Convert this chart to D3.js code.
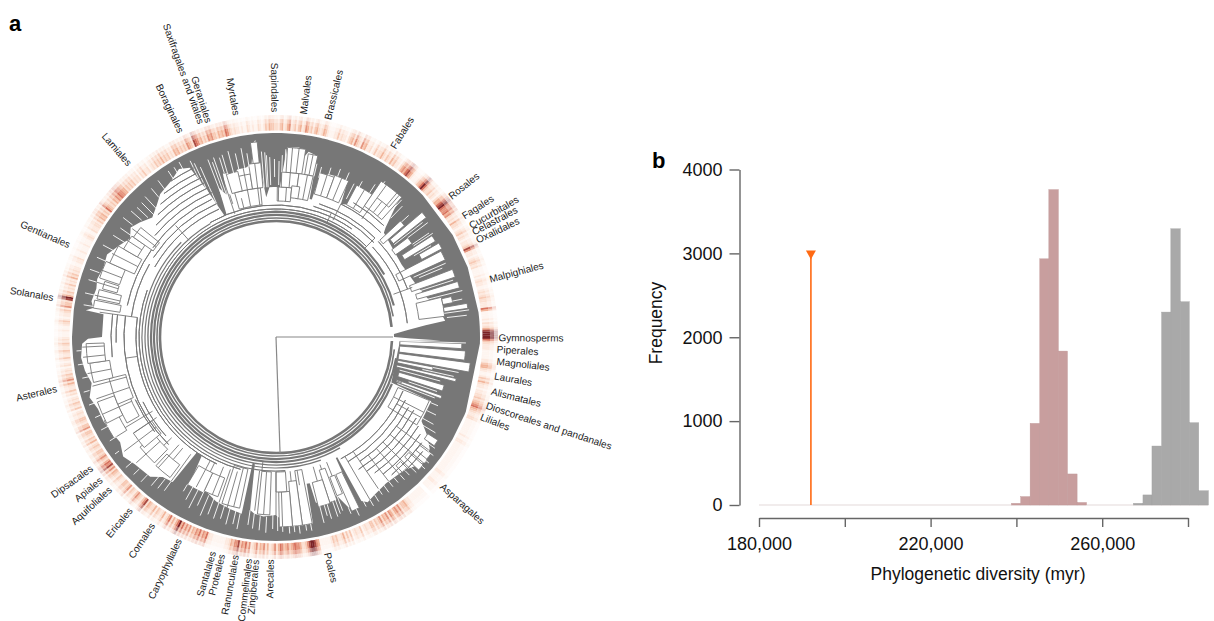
<!DOCTYPE html>
<html>
<head>
<meta charset="utf-8">
<script src="https://cdn.jsdelivr.net/npm/d3@7"></script>
<style>
  html, body { margin: 0; padding: 0; background: #fff; }
  svg { display: block; font-family: "Liberation Sans", Arial, sans-serif; }
</style>
</head>
<body>
<svg id="chart" width="1214" height="621"></svg>
<script>
// panel a: angles are degrees clockwise from north, depth is distance along the tree
const orderNames = ['Saxifragales and vitales', 'Geraniales', 'Boraginales', 'Myrtales', 'Sapindales', 'Malvales',
  'Brassicales', 'Fabales', 'Rosales', 'Fagales', 'Cucurbitales', 'Celastrales', 'Oxalidales', 'Malpighiales',
  'Gymnosperms', 'Piperales', 'Magnoliales', 'Laurales', 'Alismatales', 'Dioscoreales and pandanales', 'Liliales',
  'Asparagales', 'Poales', 'Arecales', 'Zingiberales', 'Commelinales', 'Ranunculales', 'Proteales', 'Santalales',
  'Caryophyllales', 'Cornales', 'Ericales', 'Aquifoliales', 'Apiales', 'Dipsacales', 'Asterales', 'Solanales',
  'Gentianales', 'Lamiales'];
const orderAngles = [340.5, 342.4, 334.9, 349.7, 359.5, 7.2, 13.6, 31.9, 51.4, 57.4, 60.4, 62.2, 64.5, 75.1,
  90.4, 93.4, 96.5, 100.3, 104.3, 108.2, 111.4, 132, 166.8, 181.2, 185, 186.8, 190.3, 193.8, 196.2,
  205.4, 213.2, 220, 227.4, 230.7, 234.5, 256.6, 279.8, 293.8, 319.5];
const orderDepths = [279, 249, 252, 244, 249.5, 244, 249, 240, 241, 240, 251, 247.6, 246, 249,
  255, 242, 248.6, 241, 247.6, 287, 235, 250, 237, 242, 251, 255, 252, 245, 247,
  257, 244, 243, 250, 241.6, 250, 246, 248, 252.5, 246];

// inner edge of the dense tip crown, [angle, depth]
const crownEdge = [[0,150],[1.5,150],[2.5,170],[3.5,190],[7,191],[9,183],[10,188],[12.5,186],[13.2,165],[13.7,142],
  [14.6,142],[15.2,165],[18,171],[22,172],[25,166],[26,148],[28,150],[28.8,165],[30,160],[31.5,170],[34,172],[36,184],
  [39,188],[41.5,188],[43,172],[45,155],[46,150],[60,145],[70,150],[83,168],[84.5,170],[85.5,150],[87,132],
  [88.5,118],[90,118],[90.6,135],[91.2,165],[91.8,124],[111.5,124],[112.5,168],[120,168],[123,180],[126,190],[130,195],
  [136,185],[143,183],[148,186],[151,189],[152.5,185],[153,135],[153.7,135],[154.3,190],[157,185],[159,170],[162,174],
  [165,175],[166.5,170],[167,150],[168.2,150],[168.8,190],[172,190],[176,190],[180,178],[184,180],[187,178],[188.5,175],
  [189.5,128],[190.5,128],[191,180],[195,178],[200,175],[204,170],[208,170],[210.5,172],[212,140],[214.5,140],[215.5,178],
  [219,180],[222,188],[228,190],[232,194],[236,188],[240,190],[244,192],[248,192],[252,196],[256,190],[260,194],[264,196],
  [268,194],[269.5,188],[270,174],[277.5,174],[278,192],[279,185],[281,188],[285,186],[288,188],[292,186],[296,188],
  [300,182],[304,176],[307,182],[310,178],[314,172],[318,178],[321,184],[326,188],[330,194],[333,190],[335,160],[337,132],
  [338,132],[339,160],[341,150],[342,172],[344,170],[345,166],[347,172],[350,172],[352,175],[353.2,195],[354,198],
  [354.8,165],[356,140],[357.5,150],[359,150],[360,150]];

// clades that read as white boxes against the crown, [angle0, angle1, depth0, depth1]
const cladeBoxes = [
  [344,354,133,150],[346,351,150,165],[343,347,150,170],[351,355,150,175],[352.5,354.5,175,196],
  [0.5,6,136,150],[2,8,150,165],[3.5,9,165,190],[10,13,165,186],[8,13,140,165],[6,9,140,152],
  [15,20,148,170],[20,25,148,172],[28,34,150,172],[34,42,158,188],[36,41,172,188],
  [49.5,51.5,150,192],[47,49,142,170],[57,59,150,186],[60,62,165,188],[62.5,65.5,135,186],[53,55.5,145,165],
  [69,71.5,143,189],[73,75,146,190],[76.5,83,144,170],[80,81.5,170,194],[77,79,170,180],
  [92,93.6,124,186],[94.2,97,124,190],[97.6,100.3,124,196],[100.8,102,124,160],[103,104,124,185],[106,108,128,175],[109.5,110.5,128,176],
  [112.5,122,132,166],[122.5,124.5,180,192],[127,129,180,194],[131,133,176,195],[135,137,176,185],
  [154,156.5,150,190],[157,159,150,170],[159.5,162,140,174],[162,166,150,175],[169,172,135,190],[172,175,145,190],[175,179,155,190],[176,180,135,155],
  [182,186,135,178],[192,198,135,175],[200,205,150,170],[205,211,150,172],[217,223,160,176],[224,231,156,175],[230,236,150,172],
  [238,244,176,191],[240,250,158,172],[243,250,172,190],[247,256,155,172],[256,262,168,188],[262,268,172,190],
  [279,281.5,158,185],[282,285,160,183],[285.5,288,165,180],[288.5,294,165,186],[294,300,155,182],[300,305,160,176],[305,309,150,174]];

// backbone arcs, [angle0, angle1, depth, stroke]
const backboneArcs = [
  [92,445,116,2.6],[96,440,119,1.6],[100,435,122,2.2],[112,420,125,2.2],[150,300,128,1.4],[300,405,128,1],
  [160,330,131,1.2],[330,395,132,1],[176,315,134,1.2],[195,290,137,1],[205,278,140,1],[225,278,152,1]];

// comb-like runs of arcs between the backbone and the crown, [angle0, angle1, depth]
const ladderArcs = [
  [16,46,136],[18,45,140],[26,45,148],[30,44,155],[47,84,132],[47,70,140],
  [118,146,150],[118,148,156],[120,146,162],[122,144,168],[124,142,174],[126,140,180],[128,136,186],[113,152,138],[116,150,144],
  [300,336,140],[303,336,146],[306,335,152],[310,336,158],[313,336,164],[316,335,170],[319,335,176],[322,334,182],[326,334,188],
  [228,244,148],[232,246,154],[278,300,146],[282,305,152],[268,278,160],[263,278,165]];

// single grey stems in the open part of the tree, [angle, depth0, depth1]
const branchStems = [[117,132,166],[278,140,178],[262,140,152],[186,125,135],[110,124,134],[70,125,145],[45,125,140],[24,125,136],[318,130,150],
  [4,136,150],[11,140,165],[17.5,148,170],[22.5,148,172],[31,150,172],[38,158,172],[119,138,166],[158,135,150],[161,135,140],[164,135,150],[171,135,150],
  [174,135,145],[178,155,190],[180,135,178],[184,135,178],[187,135,175],[194,135,175],[196,140,178],[199,140,175],[202,140,170],[206,140,150],[208,140,170],
  [216,145,178],[220,145,160],[222,145,176],[226,145,156],[228,156,188],[233,150,190],[236,144,172],[239,144,176],[246,158,190],[251,155,190],[255,155,190],
  [259,168,192],[264,172,194],[267,172,194],[283,160,186],[287,165,188],[291,165,188],[297,155,184],[303,160,180],[307,150,180],[341.5,130,172],[349,133,172],[353,133,175],
  [342,140,150],[346,133,143],[1,136,150],[5,150,190],[7,165,190],[11.5,165,186],[26,130,148],[36,146,172],[40,158,188],
  [126.5,150,190],[130.5,150,195],[134.5,150,190],[138,150,186],[142,150,183],[146,138,183],[150,138,188]];

// thin white slits and nicks in the crown, [angle, depth0, depth1]
const crownNicks = [
  [356.5,150,185],[358,152,180],[359.5,160,178],[1,152,176],[2,165,182],[3,170,188],[13.3,165,178],[15,165,176],[18,170,178],[21,172,180],[24,165,180],
  [27,155,172],[29,160,178],[33,172,182],[35,178,190],[42.5,172,186],[44,165,182],[47.5,170,180],[52,150,186],[53,165,190],[55.8,165,185],[56.5,165,188],
  [59.5,160,180],[66.5,150,185],[67.5,155,180],[72.2,148,186],[76,150,192],[78.5,180,190],[82,170,195],[83.5,172,192],
  [91.8,124,190],[101,160,186],[102.5,150,182],[105,128,170],[108.7,140,170],[111,130,170],[113,168,176],[116,168,178],[119,168,180],[121,170,186],
  [125,185,194],[127,190,197],[129.5,192,198],[131.5,195,199],[134,186,195],[136,185,192],[138,185,192],[140,184,190],[142,183,190],[144,183,192],[146,184,190],
  [148,186,194],[150,188,195],[152,186,192],[155,190,197],[157,185,192],[159,170,186],[160,172,188],[161,174,190],[163,175,190],[164,175,186],[165.5,174,192],
  [169.5,190,197],[171,190,196],[173,190,198],[174.5,190,196],[176,190,197],[178,186,195],[179.5,178,194],[181,178,192],[183,180,196],[185,180,194],[187,178,193],
  [188.5,175,190],[191.5,180,196],[193,178,192],[195,178,194],[197,176,190],[199,175,192],[201,172,190],[203,172,194],[205,170,186],[207,170,192],[209,171,186],
  [211,172,180],[216,178,190],[218,180,192],[220,180,194],[223,188,198],[226,190,198],[229,190,199],[234,194,199],[238,188,196],[242,190,198],[246,192,198],[250,192,199],
  [254,194,200],[258,190,198],[262,194,200],[266,195,200],[279.5,185,195],[283,186,196],[287,186,196],[290,188,198],[294,186,196],[298,184,196],[302,178,192],
  [305,176,190],[308,182,194],[311,178,192],[313,175,190],[315,172,190],[317,175,192],[320,182,194],[323,184,196],[327,188,198],[329,190,198],[331,192,200],
  [334,170,196],[334.8,150,192],[336,145,186],[339,140,190],[340,155,186],[340.8,150,190],[342.5,172,188],[343.5,170,190],[345.5,166,192],[347.5,172,188],[349.5,172,192],[351,172,186],
  [355.5,150,186],[357,150,182]];

// heat ring, one level (0-9) per half degree of arc
const heatLevels = [
  3,2,4,5,2,3,5,6,2,3,4,2,4,5,2,3,6,5,3,4, 2,4,5,3,2,3,5,4,2,1,1,1,2,2,4,2,3,2,2,1,
  3,4,5,3,6,4,3,2,6,4,5,2,2,3,1,2,4,2,3,3, 5,3,2,4,3,2,5,3,4,2,2,1,3,5,6,5,7,8,6,5,
  2,1,1,1,2,4,5,7,9,7,4,3,3,4,2,3,2,1,3,5, 5,7,8,9,7,6,6,7,5,6,3,2,3,2,5,3,3,2,1,2,
  3,4,2,3,2,1,2,2,3,4,8,6,2,2,2,1,2,3,4,3, 2,3,1,1,1,1,2,1,2,3,2,2,1,1,2,3,2,3,4,3,
  3,2,2,2,7,5,1,1,1,1,2,1,3,2,3,5,8,9,9,9, 9,7,4,3,2,2,2,1,1,1,1,1,2,2,4,5,5,3,2,1,
  1,2,4,3,5,3,2,2,1,2,2,3,3,4,3,4,5,6,7,5, 4,3,2,2,3,3,1,1,1,1,1,1,1,1,1,2,1,1,2,2,
  1,1,1,1,1,1,1,1,1,1,1,1,1,1,1,1,1,1,2,2, 1,1,1,1,2,2,1,1,1,1,0,0,1,1,1,1,1,1,1,1,
  1,2,2,3,5,4,4,3,6,4,6,5,3,5,6,3,6,4,5,3, 6,4,3,4,2,4,4,2,2,3,2,1,4,2,2,3,2,1,4,2,
  4,2,5,3,2,2,4,3,4,2,1,1,1,1,1,1,5,6,8,9, 9,8,6,4,3,3,5,6,6,7,6,5,4,6,5,4,6,7,5,3,
  6,4,3,2,5,3,6,4,5,3,6,4,3,2,6,4,7,5,6,4, 8,6,6,4,5,3,2,2,1,1,1,1,1,1,1,2,2,3,7,5,
  6,4,7,5,6,4,5,3,6,4,6,4,7,5,9,7,5,3,5,3, 7,5,3,2,5,3,2,3,4,2,5,3,3,4,5,3,8,6,4,2,
  3,4,6,4,2,3,4,2,6,4,3,4,4,2,2,3,4,2,3,4, 5,3,6,4,8,6,7,5,3,4,6,4,3,4,4,2,3,4,3,2,
  5,3,4,2,3,4,4,2,6,4,4,2,3,4,4,2,2,3,2,1, 4,2,3,4,2,3,2,1,3,2,4,2,2,3,5,3,6,4,3,4,
  2,3,2,1,3,2,1,2,4,2,2,3,4,2,2,3,4,2,3,2, 1,1,1,2,1,1,2,3,4,2,1,2,2,3,4,2,6,4,4,3,
  8,9,5,3,4,2,3,2,4,2,3,2,5,3,4,2,3,2,2,1, 1,2,2,3,1,1,1,2,1,1,1,2,1,1,1,2,3,2,1,1,
  3,2,2,3,3,2,4,3,5,4,5,3,4,3,7,5,4,3,4,3, 5,4,6,5,7,6,6,5,5,3,4,3,4,3,4,2,3,2,3,1,
  3,2,4,2,2,3,1,2,3,2,4,3,4,3,5,3,4,3,4,2, 3,2,5,4,5,3,4,3,4,3,6,5,4,3,8,7,6,4,5,3,
  4,3,6,5,6,4,4,3,5,4,5,4,7,6,4,3,2,3,2,2, 1,2,1,1,3,2,1,2,1,1,3,2,1,2,4,3,5,4,4,3];

// root of the tree, [angle, depth]
const rootStems = [[90,117],[178,116]];

// panel b: histograms
const redBinEdges = [238870, 241000, 243200, 245450, 247560, 249780, 251900, 254150, 256350];
const redCounts = [20, 100, 973, 2935, 3760, 1835, 370, 30];
const greyBinEdges = [267300, 269500, 271600, 273850, 276000, 278200, 280300, 282500, 284750];
const greyCounts = [20, 120, 703, 2300, 3293, 2423, 981, 170];
const observedDiversity = 192100;
const observedHeight = 3000;
const yTicks = [0, 1000, 2000, 3000, 4000];
const xTicks = [180000, 200000, 220000, 240000, 260000, 280000];
const xTickLabels = {180000: '180,000', 220000: '220,000', 260000: '260,000'};

const svg = d3.select('#chart');
const treeColor = '#777';

// ---- panel a
const angle = d3.scaleLinear().domain([0, 360]).range([0, 2 * Math.PI]);
const depth = d3.scaleLinear().domain([0, 204]).range([0, 204]);
const OUTER_DEPTH = 204;
const tree = svg.append('g').attr('transform', 'translate(276,337)');
const sector = d3.arc();
const polar = (a, d) => [depth(d) * Math.sin(angle(a)), -depth(d) * Math.cos(angle(a))];

const defs = svg.append('defs');
defs.append('filter').attr('id', 'soft').append('feGaussianBlur').attr('stdDeviation', 0.45);
defs.append('filter').attr('id', 'softer').append('feGaussianBlur').attr('stdDeviation', 0.3);

// heat ring
const heatColor = d3.scaleLinear()
  .domain([0, 1, 3, 5, 7, 9])
  .range(['#fff', '#fef5f0', '#fbdfd0', '#f2b59a', '#d8735f', '#7a2226']);
const ring = tree.append('g').attr('filter', 'url(#soft)');
const ringBands = [[206.5, 214, 1], [214, 218, 0.65], [218, 222, 0.25]];
ringBands.forEach(([r0, r1, op]) => {
  ring.append('g').selectAll('path')
    .data(heatLevels)
    .join('path')
      .attr('fill', d => heatColor(d))
      .attr('opacity', op)
      .attr('d', (d, i) => sector({
        startAngle: angle(i / 2), endAngle: angle(i / 2 + 0.55),
        innerRadius: depth(r0), outerRadius: depth(r1)}));
});

const treeGroup = tree.append('g').attr('filter', 'url(#softer)');

// crown
treeGroup.append('path')
  .attr('fill', treeColor)
  .attr('d', d3.areaRadial()
    .angle(d => angle(d[0]))
    .innerRadius(d => depth(d[1]))
    .outerRadius(depth(OUTER_DEPTH))(crownEdge));

// clade boxes
treeGroup.append('g').selectAll('path')
  .data(cladeBoxes)
  .join('path')
    .attr('fill', '#fff')
    .attr('stroke', treeColor)
    .attr('stroke-width', 0.9)
    .attr('d', d => sector({
      startAngle: angle(d[0]), endAngle: angle(d[1]),
      innerRadius: depth(d[2]), outerRadius: depth(d[3])}));

// white slits
const stems = (parent, data, color, width) => parent.append('g').selectAll('line')
  .data(data)
  .join('line')
    .attr('stroke', color)
    .attr('stroke-width', width)
    .attr('x1', d => polar(d[0], d[1])[0]).attr('y1', d => polar(d[0], d[1])[1])
    .attr('x2', d => polar(d[0], d[2])[0]).attr('y2', d => polar(d[0], d[2])[1]);
stems(treeGroup, crownNicks, '#fff', 0.9);
stems(treeGroup, branchStems, treeColor, 0.9);

// backbone and ladders
treeGroup.append('g').selectAll('path')
  .data(backboneArcs)
  .join('path')
    .attr('fill', 'none')
    .attr('stroke', treeColor)
    .attr('stroke-width', d => d[3])
    .attr('d', d => sector({
      startAngle: angle(d[0]), endAngle: angle(d[1]),
      innerRadius: depth(d[2]), outerRadius: depth(d[2])}));
treeGroup.append('g').selectAll('path')
  .data(ladderArcs)
  .join('path')
    .attr('fill', 'none')
    .attr('stroke', treeColor)
    .attr('stroke-width', 0.9)
    .attr('d', d => sector({
      startAngle: angle(d[0]), endAngle: angle(d[1]),
      innerRadius: depth(d[2]), outerRadius: depth(d[2])}));

treeGroup.append('g').selectAll('line')
  .data(rootStems)
  .join('line')
    .attr('stroke', '#888')
    .attr('stroke-width', 1.2)
    .attr('x1', 0).attr('y1', 0)
    .attr('x2', d => polar(d[0], d[1])[0]).attr('y2', d => polar(d[0], d[1])[1]);

// order labels read outward on the right and left to right on the left
tree.append('g').selectAll('text')
  .data(orderNames)
  .join('text')
    .attr('font-size', 10)
    .attr('fill', '#222')
    .attr('text-anchor', 'middle')
    .attr('dominant-baseline', 'middle')
    .attr('transform', (d, i) => {
      const [x, y] = polar(orderAngles[i], orderDepths[i]);
      const a = orderAngles[i];
      return `translate(${x},${y}) rotate(${a < 180 ? a - 90 : a - 270})`;
    })
    .text(d => d);

// ---- panel b
const xScale = d3.scaleLinear().domain([180000, 280000]).range([759, 1188]);
const yScale = d3.scaleLinear().domain([0, 4000]).range([505, 169.5]);

svg.append('rect')
  .attr('x', xScale(180000)).attr('y', yScale(0) - 1)
  .attr('width', xScale(284750) - xScale(180000)).attr('height', 2)
  .attr('fill', '#f1ecec');

function histogram(edges, counts, color) {
  svg.append('g').selectAll('rect')
    .data(counts)
    .join('rect')
      .attr('x', (d, i) => xScale(edges[i]))
      .attr('width', (d, i) => xScale(edges[i + 1]) - xScale(edges[i]))
      .attr('y', d => yScale(d))
      .attr('height', d => yScale(0) - yScale(d))
      .attr('fill', color)
      .attr('stroke', d3.color(color).darker(0.15))
      .attr('stroke-width', 0.4);
}
histogram(redBinEdges, redCounts, '#c89e9e');
histogram(greyBinEdges, greyCounts, '#a9a9a9');

const orange = '#ff6a13';
svg.append('line')
  .attr('x1', xScale(observedDiversity)).attr('x2', xScale(observedDiversity))
  .attr('y1', yScale(0)).attr('y2', yScale(observedHeight))
  .attr('stroke', orange).attr('stroke-width', 1.6);
svg.append('path')
  .attr('fill', orange)
  .attr('transform', `translate(${xScale(observedDiversity)},${yScale(observedHeight)})`)
  .attr('d', d3.line()([[-5, -3], [5, -3], [0, 6]]));

const axisColor = '#666';
const styleAxis = g => {
  g.selectAll('.domain').attr('stroke', axisColor).attr('stroke-width', 1.4);
  g.selectAll('.tick line').attr('stroke', axisColor).attr('stroke-width', 1.4);
  g.selectAll('.tick text').attr('fill', '#111').attr('font-size', 18)
    .attr('font-family', '"Liberation Sans", Arial, sans-serif');
};

svg.append('g')
  .attr('transform', 'translate(739.5,0)')
  .call(d3.axisLeft(yScale).tickValues(yTicks).tickFormat(d3.format('d')).tickSize(10).tickSizeOuter(0).tickPadding(7))
  .call(styleAxis);

svg.append('g')
  .attr('transform', 'translate(0,518)')
  .call(d3.axisBottom(xScale).tickValues(xTicks).tickFormat(d => xTickLabels[d] || '').tickSize(9).tickSizeOuter(0).tickPadding(10))
  .call(styleAxis);

svg.append('text')
  .attr('x', 978).attr('y', 575)
  .attr('text-anchor', 'middle').attr('dominant-baseline', 'middle')
  .attr('font-size', 17.5).attr('fill', '#111')
  .text('Phylogenetic diversity (myr)');

svg.append('text')
  .attr('transform', 'translate(657,323) rotate(-90)')
  .attr('text-anchor', 'middle').attr('dominant-baseline', 'middle')
  .attr('font-size', 17.5).attr('fill', '#111')
  .text('Frequency');

svg.append('text').attr('x', 9).attr('y', 31).attr('font-size', 22).attr('font-weight', 'bold').text('a');
svg.append('text').attr('x', 652).attr('y', 168).attr('font-size', 22).attr('font-weight', 'bold').text('b');
</script>
</body>
</html>
